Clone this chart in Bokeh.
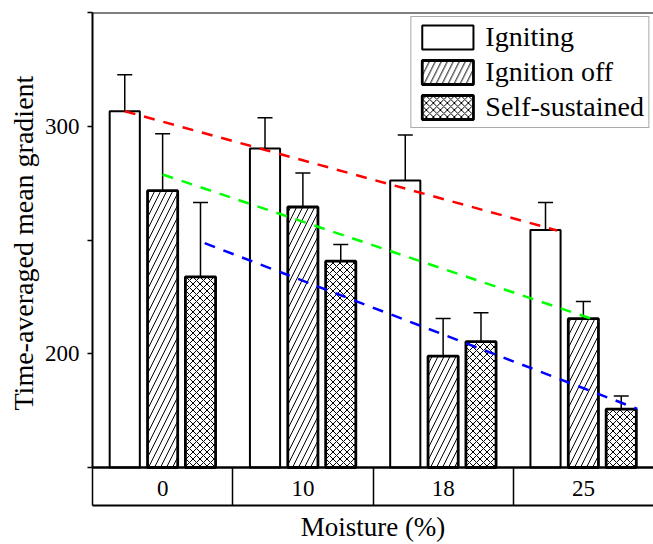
import numpy as np
from bokeh.plotting import figure
from bokeh.models import (ColumnDataSource, Range1d, FixedTicker, Whisker,
                          TeeHead, Span, Legend, LegendItem, Title)
from bokeh.embed import file_html
from bokeh.resources import INLINE

# ---------------- data ----------------
moisture = ["0", "10", "18", "25"]
series = ["Igniting", "Ignition off", "Self-sustained"]

igniting = [306.6, 290.2, 276.2, 254.4]
igniting_err = [16.0, 13.5, 20.0, 12.1]
ignition_off = [271.7, 264.5, 199.0, 215.4]
ignition_off_err = [25.0, 15.0, 16.5, 7.6]
self_sustained = [233.8, 240.7, 205.3, 175.7]
self_sustained_err = [32.7, 7.3, 12.7, 5.7]

# dashed trend lines (start / end, x in category units)
trend_x_start = [-0.27, 0.0, 0.30]
trend_x_end = [2.813, 3.11, 3.384]
trend_y_start = [306.6, 278.8, 248.6]
trend_y_end = [254.2, 214.3, 175.8]
trend_colors = ["#ff0000", "#00ff00", "#0000ff"]

y_min, y_max = 150, 350
y_ticks = [150, 200, 250, 300, 350]
y_labelled = [200, 300]

# ---------------- figure ----------------
FONT = "'Liberation Serif', 'Times New Roman', serif"
ROW_PX = 38           # height of the category row under the bars
FRAME_TOP, FRAME_BOTTOM = 12, 505
px_per_unit = (FRAME_BOTTOM - ROW_PX - FRAME_TOP) / (y_max - y_min)
y_start = y_min - ROW_PX / px_per_unit   # category row lives below the bar baseline

p = figure(width=653, height=544, x_range=Range1d(-0.5, 3.5), y_range=Range1d(y_start, y_max),
           output_backend="svg", toolbar_location=None,
           min_border_left=92, min_border_right=0, min_border_top=FRAME_TOP,
           min_border_bottom=544 - FRAME_BOTTOM)
p.outline_line_color = None
p.xgrid.visible = False
p.ygrid.visible = False
p.background_fill_color = "white"
p.border_fill_color = "white"

idx = np.arange(len(moisture))
dx = 0.27
bw = 0.215
src = ColumnDataSource(dict(
    x0=idx - dx, x1=idx, x2=idx + dx,
    v0=igniting, v1=ignition_off, v2=self_sustained,
    up0=np.array(igniting) + np.array(igniting_err),
    lo0=np.array(igniting) - np.array(igniting_err),
    up1=np.array(ignition_off) + np.array(ignition_off_err),
    lo1=np.array(ignition_off) - np.array(ignition_off_err),
    up2=np.array(self_sustained) + np.array(self_sustained_err),
    lo2=np.array(self_sustained) - np.array(self_sustained_err),
))

r0 = p.vbar(x="x0", top="v0", bottom=y_min, width=bw, source=src,
            fill_color="white", line_color="black", line_width=2)
r1 = p.vbar(x="x1", top="v1", bottom=y_min, width=bw, source=src,
            fill_color="white", line_color="black", line_width=2.8,
            hatch_pattern="/", hatch_color="black", hatch_weight=1, hatch_scale=12)
r2 = p.vbar(x="x2", top="v2", bottom=y_min, width=bw, source=src,
            fill_color="white", line_color="black", line_width=2.8,
            hatch_pattern="x", hatch_color="black", hatch_weight=1, hatch_scale=7)

for k in range(3):
    w = Whisker(base=f"x{k}", upper=f"up{k}", lower=f"lo{k}", source=src,
                line_color="black", line_width=1.5,
                upper_head=TeeHead(size=15, line_color="black", line_width=1.5),
                lower_head=TeeHead(size=15, line_color="black", line_width=1.5))
    p.add_layout(w)

tsrc = ColumnDataSource(dict(x0=trend_x_start, x1=trend_x_end, y0=trend_y_start,
                             y1=trend_y_end, c=trend_colors))
p.segment(x0="x0", y0="y0", x1="x1", y1="y1", color="c", source=tsrc,
          line_width=2.5, line_dash="11 9")

# baseline of the bars (top of the category row) and the top border
p.add_layout(Span(location=y_min, dimension="width", line_color="black", line_width=2.5))
p.add_layout(Span(location=y_max, dimension="width", line_color="black", line_width=2))

# ---------------- axes ----------------
ya = p.yaxis[0]
ya.bounds = (y_min, y_max)
ya.ticker = FixedTicker(ticks=y_ticks)
ya.major_label_overrides = {t: ("" if t not in y_labelled else str(t)) for t in y_ticks}
ya.major_tick_out = 5
ya.major_tick_in = 0
ya.minor_tick_line_color = None
ya.major_tick_line_width = 1.5
ya.major_tick_line_color = "black"
ya.axis_line_width = 2
ya.axis_line_color = "black"
ya.major_label_standoff = 8
ya.major_label_text_font = FONT
ya.major_label_text_font_size = "23px"
ya.major_label_text_color = "black"

# y title, centred on the 150-350 value span (not on the whole frame)
ytitle = Title(text="Time-averaged mean gradient", align="left", vertical_align="bottom",
               offset=95, standoff=6, text_font=FONT, text_font_size="28px",
               text_font_style="normal", text_color="black")
p.add_layout(ytitle, "left")

# x axis = bottom of the category row; separators are inward minor ticks,
# category labels are pulled up into the row
xa = p.xaxis[0]
xa.ticker = FixedTicker(ticks=list(idx), minor_ticks=[-0.5, 0.5, 1.5, 2.5])
xa.major_label_overrides = {int(i): m for i, m in zip(idx, moisture)}
xa.major_tick_out = 0
xa.major_tick_in = 0
xa.minor_tick_out = 0
xa.minor_tick_in = ROW_PX
xa.minor_tick_line_width = 1.5
xa.minor_tick_line_color = "black"
xa.axis_line_width = 2
xa.axis_line_color = "black"
xa.major_label_standoff = -25
xa.major_label_text_font = FONT
xa.major_label_text_font_size = "23px"
xa.major_label_text_color = "black"
xa.axis_label = "Moisture (%)"
xa.axis_label_text_font = FONT
xa.axis_label_text_font_size = "27px"
xa.axis_label_text_font_style = "normal"
xa.axis_label_text_color = "black"
xa.axis_label_standoff = 13

# ---------------- legend ----------------
legend = Legend(items=[LegendItem(label=series[0], renderers=[r0]),
                       LegendItem(label=series[1], renderers=[r1]),
                       LegendItem(label=series[2], renderers=[r2])],
                location="top_right", glyph_width=64, glyph_height=30,
                label_text_font=FONT, label_text_font_size="28px", label_text_color="black",
                label_standoff=6, spacing=3, padding=4, margin=4,
                border_line_color="#555555", border_line_width=1,
                background_fill_color="white", background_fill_alpha=1)
p.add_layout(legend)

open("out.html", "w").write(file_html(p, INLINE, title="chart"))
